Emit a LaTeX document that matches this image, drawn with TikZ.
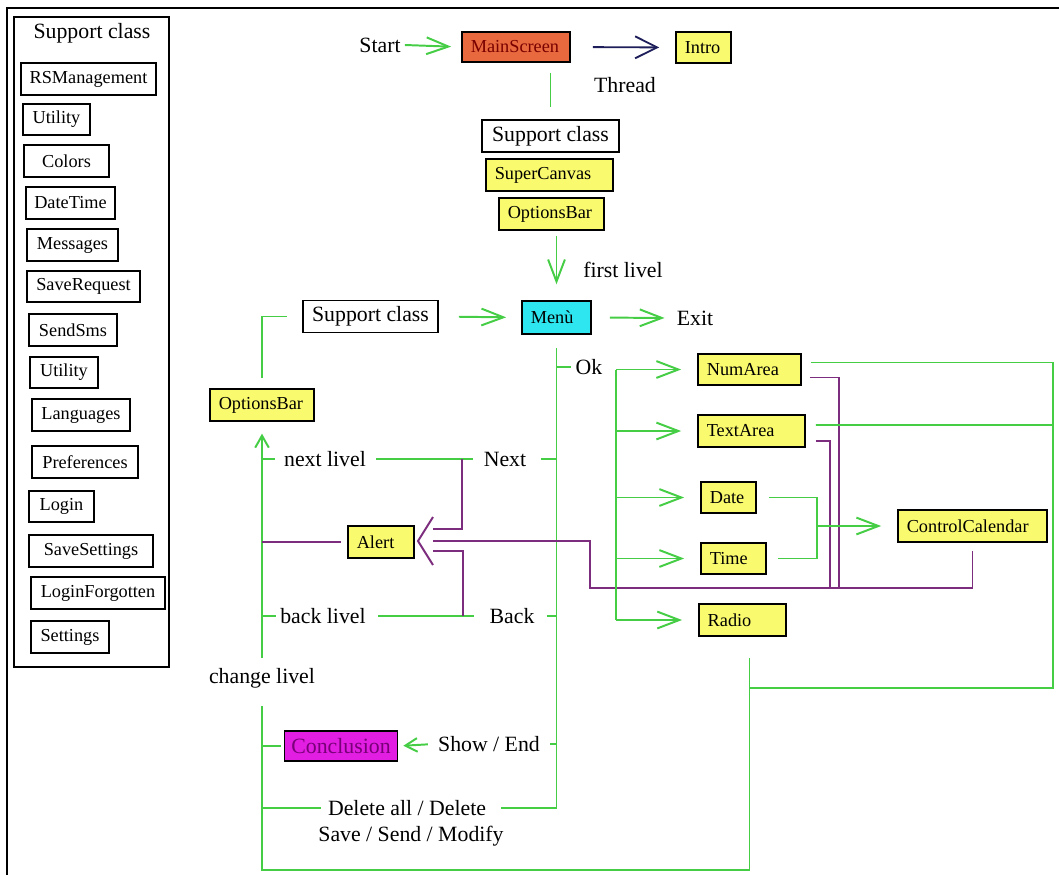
\documentclass[tikz,border=0pt]{standalone}
\usepackage{fontspec}
\setmainfont{Liberation Serif}
\usepackage{tikz}
\usetikzlibrary{arrows.meta,positioning}

\definecolor{lgreen}{RGB}{70,205,70}
\definecolor{alarmpurple}{RGB}{125,45,125}
\definecolor{navy}{RGB}{30,30,90}
\definecolor{boxyellow}{RGB}{250,250,110}
\definecolor{mainorange}{RGB}{232,105,62}
\definecolor{maintext}{RGB}{120,0,0}
\definecolor{menucyan}{RGB}{45,230,240}
\definecolor{conmagenta}{RGB}{225,30,225}
\definecolor{context}{RGB}{120,0,120}

\newcommand{\boxfont}{\fontsize{13}{15}\selectfont}
\newcommand{\labelfont}{\fontsize{15.5}{18}\selectfont}

\begin{document}
\begin{tikzpicture}[
    x=0.25mm, y=-0.25mm,
    classbox/.style={rectangle, draw, line width=1.2pt, minimum height=7.9mm, minimum width=#1, inner xsep=0pt, font=\boxfont},
    ybox/.style={rectangle, draw, line width=1.2pt, fill=boxyellow, minimum height=7.9mm, text width=#1, inner xsep=2.2mm, align=left, font=\boxfont},
    wbox/.style={rectangle, draw, line width=1.2pt, fill=white, minimum height=8mm, minimum width=#1, inner xsep=0pt, font=\labelfont},
    lbl/.style={inner sep=1mm, font=\labelfont},
    link/.style={draw=lgreen, line width=1.4pt},
    flow/.style={link, -{Straight Barb[length=5.5mm, width=4.2mm]}},
    smallflow/.style={link, -{Straight Barb[length=3mm, width=3.4mm]}},
    alarm/.style={draw=alarmpurple, line width=1.4pt},
    threadline/.style={draw=navy, line width=1.3pt, -{Straight Barb[length=5.5mm, width=5.5mm]}}
]
\useasboundingbox (0,0) rectangle (1059,875);

% Frame
\draw[line width=1.2pt] (7,875) -- (7,8) -- (1059,8);

% Support class panel
\draw[line width=1.2pt] (14,17) rectangle (169,667);
\node[lbl] (paneltitle) at (92,33) {Support class};
\node[classbox=33.75mm] (rsm) at (88.5,79) {RSManagement};
\node[classbox=16.75mm] (utility) at (56.5,119.5) {Utility};
\node[classbox=21.25mm] (colors) at (66.5,161) {Colors};
\node[classbox=22.25mm] (datetime) at (70.5,203) {DateTime};
\node[classbox=22.75mm] (messages) at (72.5,245) {Messages};
\node[classbox=28.25mm] (saverequest) at (83.5,286.5) {SaveRequest};
\node[classbox=22mm] (sendsms) at (73,330) {SendSms};
\node[classbox=17mm] (utilitytwo) at (64,372.5) {Utility};
\node[classbox=24.5mm] (languages) at (81,415) {Languages};
\node[classbox=26.5mm] (preferences) at (85,462) {Preferences};
\node[classbox=16.25mm] (login) at (61.5,506.5) {Login};
\node[classbox=31mm] (savesettings) at (91,551) {SaveSettings};
\node[classbox=33.5mm] (loginforgotten) at (98,593) {LoginForgotten};
\node[classbox=19.5mm] (settings) at (70,637) {Settings};

% Start
\node[lbl] (start) at (380,45) {Start};
\node[ybox=22.6mm, fill=mainorange, text=maintext, minimum height=7.5mm] (mainscreen) at (516,47) {MainScreen};
\node[ybox=9.35mm] (intro) at (703.5,47.5) {Intro};
\node[lbl] (thread) at (625,85) {Thread};
\node[wbox=34.25mm] (supportmid) at (550.5,136) {Support class};
\node[ybox=27.35mm] (supercanvas) at (549.5,175) {SuperCanvas};
\node[ybox=21.85mm] (optionsbartop) at (551.5,214) {OptionsBar};
\node[lbl] (firstlivel) at (623,270) {first livel};

% Menu
\node[ybox=12.85mm, fill=menucyan, minimum height=8.2mm] (menu) at (556.5,317.5) {Menù};
\node[wbox=33.75mm] (supportleft) at (370.5,316.5) {Support class};
\node[lbl] (exit) at (695,318) {Exit};
\node[ybox=21.6mm] (optionsbarleft) at (262,405) {OptionsBar};

% Menu branches
\node[lbl] (ok) at (589,367) {Ok};
\node[lbl] (next) at (505,459) {Next};
\node[lbl] (back) at (512,616) {Back};
\node[lbl] (nextlivel) at (325,459) {next livel};
\node[lbl] (backlivel) at (323,616) {back livel};
\node[ybox=12.1mm] (alert) at (381,542) {Alert};
\node[lbl] (change) at (262,678) {change livel};
\node[wbox=28.25mm, fill=conmagenta, text=context, minimum height=7.5mm] (conclusion) at (341,746) {Conclusion};
\node[lbl] (showend) at (489,744) {Show / End};
\node[lbl] (deltext) at (407,808) {Delete all / Delete};
\node[lbl] (savetext) at (411,836) {Save / Send / Modify};

% Input fields
\node[ybox=21.35mm] (numarea) at (749.5,369.5) {NumArea};
\node[ybox=22.35mm] (textarea) at (751.5,431) {TextArea};
\node[ybox=9.35mm] (date) at (728.5,497.5) {Date};
\node[ybox=11.85mm] (time) at (733.5,558.5) {Time};
\node[ybox=17.4mm] (radio) at (742.5,620) {Radio};
\node[ybox=32.85mm] (controlcalendar) at (972.5,526) {ControlCalendar};

\coordinate (brtop) at (616,369.5);
\coordinate (brbot) at (616,620);
\coordinate (dtj) at (817,526);
\coordinate (bl) at (262,870);
\coordinate (rb) at (749,688);
\coordinate (rc) at (1053,688);
\coordinate (tr) at (1053,425);
\coordinate (chev) at (433,541);
\coordinate (pj) at (590,588);
\coordinate (pk) at (972.5,588);
\coordinate (na) at (839,588);
\coordinate (ta) at (830,588);
\coordinate (nj) at (462,459);
\coordinate (bj) at (463,616);

% Top flows
\draw[flow, shorten >=2.5mm] (start.east) -- (mainscreen.west);
\draw[threadline, shorten <=5.5mm, shorten >=4mm] (mainscreen.east) -- (intro.west);
\draw[link, shorten <=2.5mm, shorten >=3mm] (supportmid |- mainscreen.south) -- (supportmid.north);
\draw[flow, shorten <=1.25mm, shorten >=4mm] (menu |- optionsbartop.south) -- (menu.north);
\draw[flow, shorten <=5mm, shorten >=3.75mm] (supportleft.east) -- (menu.west);
\draw[flow, shorten <=4.5mm, shorten >=2mm] (menu.east) -- (exit.west);
\draw[link, shorten <=3.75mm, shorten >=2.5mm] (supportleft.west) -| (optionsbarleft.north);

% Menu trunk
\draw[link, shorten <=3.25mm, shorten >=2.75mm] (menu.south) |- (deltext.east);
\draw[link] (menu |- ok.west) -- (ok.west);
\draw[link, shorten <=2.75mm] (next.east) -- (menu |- next.east);
\draw[link, shorten <=2mm] (back.east) -- (menu |- back.east);
\draw[link, shorten <=1.5mm] (showend.east) -- (menu |- showend.east);
\draw[smallflow, shorten <=1.5mm, shorten >=1.25mm] (showend.west) -- (conclusion.east);

% Level changes
\draw[link, shorten <=1.5mm, shorten >=1.75mm] (nextlivel.east) -- (next.west);
\draw[link, shorten <=2mm, shorten >=2.75mm] (backlivel.east) -- (back.west);
\draw[smallflow, shorten <=1.5mm, shorten >=3mm] (change.north) -- (change |- optionsbarleft.south);
\draw[link, shorten >=1.25mm] (change |- nextlivel.west) -- (nextlivel.west);
\draw[link] (change |- backlivel.west) -- (backlivel.west);
\draw[link, shorten >=0.75mm] (change |- conclusion.west) -- (conclusion.west);
\draw[link, shorten >=0.75mm] (change |- deltext.west) -- (deltext.west);
\draw[link, shorten <=3.5mm, shorten >=5.25mm] (change.south) -- (bl) -| ([xshift=1.75mm]radio.south);

% Alerts
\draw[alarm, shorten >=1.5mm] (change |- alert.west) -- (alert.west);
\draw[alarm] ([yshift=6mm]chev) -- ([xshift=-3.75mm]chev) -- ([yshift=-6mm]chev);
\draw[alarm] (nj) |- ([yshift=3mm]chev);
\draw[alarm] (bj) |- ([yshift=-2.5mm]chev);
\draw[alarm, shorten >=2mm] (chev) -| (pj) -- (pk) -- (controlcalendar.south);
\draw[alarm, shorten <=2mm] ([yshift=-2mm]numarea.east) -| (na);
\draw[alarm, shorten <=2.5mm] ([yshift=-2.5mm]textarea.east) -| (ta);

% Input fields flows
\draw[link] (brbot) -- (brtop);
\foreach \f in {numarea,textarea,date,time,radio}
    \draw[flow, shorten >=4mm] (brtop |- \f.west) -- (\f.west);
\draw[link, shorten <=3mm] (date.east) -| (dtj);
\draw[link, shorten <=2.75mm] (time.east) -| (dtj);
\draw[flow, shorten >=4mm] (dtj) -- (controlcalendar.west);
\draw[link, shorten >=2.25mm] (rb) -- (rc) |- ([yshift=1.75mm]numarea.east);
\draw[link, shorten <=2.5mm] ([yshift=1.5mm]textarea.east) -- (tr);

\end{tikzpicture}
\end{document}
